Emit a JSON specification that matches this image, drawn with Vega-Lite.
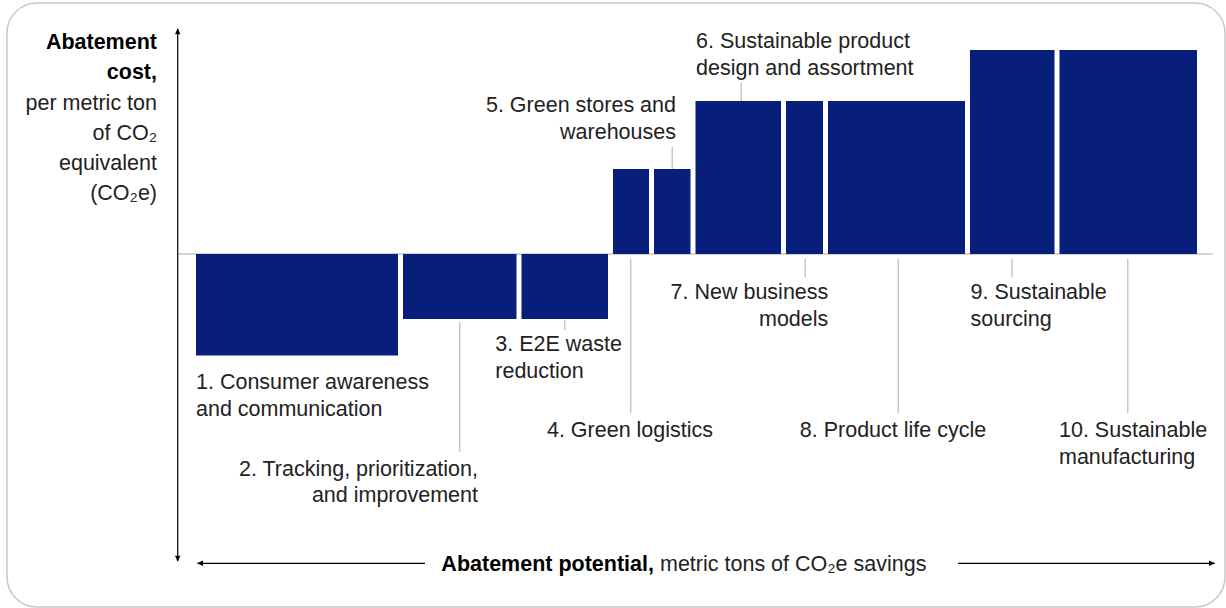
{
  "$schema": "https://vega.github.io/schema/vega-lite/v6.json",
  "width": 1218,
  "height": 604,
  "autosize": {"type": "none"},
  "padding": {"left": 7, "top": 3, "right": 1, "bottom": 1},
  "background": "white",
  "config": {
    "view": {"stroke": "#c8c8c8", "strokeWidth": 1.5, "cornerRadius": 30},
    "text": {"font": "Liberation Sans", "fontSize": 21.5, "color": "#222222"}
  },
  "datasets": {
    "bars": [
      {"lever": 1, "name": "Consumer awareness and communication", "start": 0, "end": 20.7, "cost": -10.15},
      {"lever": 2, "name": "Tracking, prioritization, and improvement", "start": 20.7, "end": 32.55, "cost": -6.5},
      {"lever": 3, "name": "E2E waste reduction", "start": 32.55, "end": 41.7, "cost": -6.5},
      {"lever": 4, "name": "Green logistics", "start": 41.7, "end": 45.8, "cost": 8.5},
      {"lever": 5, "name": "Green stores and warehouses", "start": 45.8, "end": 49.95, "cost": 8.5},
      {"lever": 6, "name": "Sustainable product design and assortment", "start": 49.95, "end": 59.0, "cost": 15.3},
      {"lever": 7, "name": "New business models", "start": 59.0, "end": 63.2, "cost": 15.3},
      {"lever": 8, "name": "Product life cycle", "start": 63.2, "end": 77.4, "cost": 15.3},
      {"lever": 9, "name": "Sustainable sourcing", "start": 77.4, "end": 86.35, "cost": 20.4},
      {"lever": 10, "name": "Sustainable manufacturing", "start": 86.35, "end": 100.6, "cost": 20.4}
    ],
    "leaders": [
      {"lever": 2, "x": 26.62, "top": -6.77, "bottom": -19.8},
      {"lever": 3, "x": 37.12, "top": -6.6, "bottom": -7.6},
      {"lever": 4, "x": 43.72, "top": -0.5, "bottom": -15.9},
      {"lever": 5, "x": 47.88, "top": 10.7, "bottom": 8.5},
      {"lever": 6, "x": 54.78, "top": 17.1, "bottom": 15.3},
      {"lever": 7, "x": 61.18, "top": -0.5, "bottom": -2.3},
      {"lever": 8, "x": 70.48, "top": -0.5, "bottom": -15.9},
      {"lever": 9, "x": 81.85, "top": -0.5, "bottom": -2.3},
      {"lever": 10, "x": 93.42, "top": -0.5, "bottom": -15.9}
    ],
    "zeroLine": [{"x": -1.55, "x2": 101.92, "y": 0, "y2": 0}],
    "axisLines": [
      {"part": "y axis", "x": -1.58, "x2": -1.58, "y": 22.5, "y2": -30.7},
      {"part": "x axis left", "x": 0.4, "x2": 23.15, "y": -30.93, "y2": -30.93},
      {"part": "x axis right", "x": 76.45, "x2": 102.1, "y": -30.93, "y2": -30.93}
    ],
    "arrowHeads": [
      {"dir": "up", "x": -1.58, "y": 22.57},
      {"dir": "down", "x": -1.58, "y": -30.77},
      {"dir": "left", "x": 0.35, "y": -30.93},
      {"dir": "right", "x": 102.15, "y": -30.93}
    ],
    "labelsLeft": [
      {"lever": 1, "x": 0.25, "y": -12.87, "text": "1. Consumer awareness"},
      {"lever": 1, "x": 0.25, "y": -15.6, "text": "and communication"},
      {"lever": 3, "x": 30.18, "y": -9.1, "text": "3. E2E waste"},
      {"lever": 3, "x": 30.18, "y": -11.77, "text": "reduction"},
      {"lever": 6, "x": 50.25, "y": 21.2, "text": "6. Sustainable product"},
      {"lever": 6, "x": 50.25, "y": 18.5, "text": "design and assortment"},
      {"lever": 9, "x": 77.7, "y": -3.87, "text": "9. Sustainable"},
      {"lever": 9, "x": 77.7, "y": -6.6, "text": "sourcing"},
      {"lever": 10, "x": 86.55, "y": -17.7, "text": "10. Sustainable"},
      {"lever": 10, "x": 86.55, "y": -20.4, "text": "manufacturing"}
    ],
    "labelsRight": [
      {"lever": 2, "x": 28.45, "y": -21.55, "text": "2. Tracking, prioritization,"},
      {"lever": 2, "x": 28.45, "y": -24.2, "text": "and improvement"},
      {"lever": 5, "x": 48.25, "y": 14.85, "text": "5. Green stores and"},
      {"lever": 5, "x": 48.25, "y": 12.15, "text": "warehouses"},
      {"lever": 7, "x": 63.48, "y": -3.87, "text": "7. New business"},
      {"lever": 7, "x": 63.48, "y": -6.6, "text": "models"}
    ],
    "labelsCenter": [
      {"lever": 4, "x": 43.65, "y": -17.7, "text": "4. Green logistics"},
      {"lever": 8, "x": 69.95, "y": -17.7, "text": "8. Product life cycle"}
    ],
    "yTitleBold": [
      {"x": -3.65, "y": 21.1, "text": "Abatement"},
      {"x": -3.65, "y": 18.1, "text": "cost,"}
    ],
    "yTitleRegular": [
      {"x": -3.65, "y": 15.0, "text": "per metric ton"},
      {"x": -3.65, "y": 12.0, "text": "of CO₂"},
      {"x": -3.65, "y": 9.0, "text": "equivalent"},
      {"x": -3.65, "y": 6.0, "text": "(CO₂e)"}
    ],
    "xTitleBold": [{"x": 46.05, "y": -31.1, "text": "Abatement potential,"}],
    "xTitleRegular": [{"x": 46.65, "y": -31.1, "text": "metric tons of CO₂e savings"}]
  },
  "layer": [
    {
      "data": {"name": "zeroLine"},
      "mark": {"type": "rule", "color": "#c4c4c4", "strokeWidth": 1.5},
      "encoding": {
        "x": {"field": "x", "type": "quantitative", "scale": {"domain": [-18.65, 103.15], "nice": false, "zero": false}, "axis": null},
        "x2": {"field": "x2"},
        "y": {"field": "y", "type": "quantitative", "scale": {"domain": [-35.3, 25.1], "nice": false, "zero": false}, "axis": null},
        "y2": {"field": "y2"}
      }
    },
    {
      "data": {"name": "bars"},
      "mark": {"type": "rect", "color": "#071f7a", "xOffset": 2.5, "x2Offset": -2.5},
      "encoding": {
        "x": {"field": "start", "type": "quantitative", "scale": {"domain": [-18.65, 103.15], "nice": false, "zero": false}, "axis": null},
        "x2": {"field": "end"},
        "y": {"field": "cost", "type": "quantitative", "scale": {"domain": [-35.3, 25.1], "nice": false, "zero": false}, "axis": null},
        "y2": {"datum": 0}
      }
    },
    {
      "data": {"name": "leaders"},
      "mark": {"type": "rule", "color": "#c8c8c8", "strokeWidth": 1.5},
      "encoding": {
        "x": {"field": "x", "type": "quantitative", "scale": {"domain": [-18.65, 103.15], "nice": false, "zero": false}, "axis": null},
        "y": {"field": "top", "type": "quantitative", "scale": {"domain": [-35.3, 25.1], "nice": false, "zero": false}, "axis": null},
        "y2": {"field": "bottom"}
      }
    },
    {
      "data": {"name": "axisLines"},
      "mark": {"type": "rule", "color": "#000000", "strokeWidth": 1.2},
      "encoding": {
        "x": {"field": "x", "type": "quantitative", "scale": {"domain": [-18.65, 103.15], "nice": false, "zero": false}, "axis": null},
        "x2": {"field": "x2"},
        "y": {"field": "y", "type": "quantitative", "scale": {"domain": [-35.3, 25.1], "nice": false, "zero": false}, "axis": null},
        "y2": {"field": "y2"}
      }
    },
    {
      "data": {"name": "arrowHeads"},
      "mark": {"type": "point", "filled": true, "color": "#000000", "size": 36, "opacity": 1},
      "encoding": {
        "x": {"field": "x", "type": "quantitative", "scale": {"domain": [-18.65, 103.15], "nice": false, "zero": false}, "axis": null},
        "y": {"field": "y", "type": "quantitative", "scale": {"domain": [-35.3, 25.1], "nice": false, "zero": false}, "axis": null},
        "shape": {
          "field": "dir", "type": "nominal", "legend": null,
          "scale": {"domain": ["up", "down", "left", "right"], "range": ["M0,0L-0.9,2L0.9,2Z", "M0,0L-0.9,-2L0.9,-2Z", "M0,0L2,-0.9L2,0.9Z", "M0,0L-2,-0.9L-2,0.9Z"]}
        }
      }
    },
    {
      "data": {"name": "labelsLeft"},
      "mark": {"type": "text", "align": "left", "baseline": "middle"},
      "encoding": {
        "x": {"field": "x", "type": "quantitative", "scale": {"domain": [-18.65, 103.15], "nice": false, "zero": false}, "axis": null},
        "y": {"field": "y", "type": "quantitative", "scale": {"domain": [-35.3, 25.1], "nice": false, "zero": false}, "axis": null},
        "text": {"field": "text"}
      }
    },
    {
      "data": {"name": "labelsRight"},
      "mark": {"type": "text", "align": "right", "baseline": "middle"},
      "encoding": {
        "x": {"field": "x", "type": "quantitative", "scale": {"domain": [-18.65, 103.15], "nice": false, "zero": false}, "axis": null},
        "y": {"field": "y", "type": "quantitative", "scale": {"domain": [-35.3, 25.1], "nice": false, "zero": false}, "axis": null},
        "text": {"field": "text"}
      }
    },
    {
      "data": {"name": "labelsCenter"},
      "mark": {"type": "text", "align": "center", "baseline": "middle"},
      "encoding": {
        "x": {"field": "x", "type": "quantitative", "scale": {"domain": [-18.65, 103.15], "nice": false, "zero": false}, "axis": null},
        "y": {"field": "y", "type": "quantitative", "scale": {"domain": [-35.3, 25.1], "nice": false, "zero": false}, "axis": null},
        "text": {"field": "text"}
      }
    },
    {
      "data": {"name": "yTitleBold"},
      "mark": {"type": "text", "align": "right", "baseline": "middle", "fontWeight": "bold", "color": "#000000"},
      "encoding": {
        "x": {"field": "x", "type": "quantitative", "scale": {"domain": [-18.65, 103.15], "nice": false, "zero": false}, "axis": null},
        "y": {"field": "y", "type": "quantitative", "scale": {"domain": [-35.3, 25.1], "nice": false, "zero": false}, "axis": null},
        "text": {"field": "text"}
      }
    },
    {
      "data": {"name": "yTitleRegular"},
      "mark": {"type": "text", "align": "right", "baseline": "middle"},
      "encoding": {
        "x": {"field": "x", "type": "quantitative", "scale": {"domain": [-18.65, 103.15], "nice": false, "zero": false}, "axis": null},
        "y": {"field": "y", "type": "quantitative", "scale": {"domain": [-35.3, 25.1], "nice": false, "zero": false}, "axis": null},
        "text": {"field": "text"}
      }
    },
    {
      "data": {"name": "xTitleBold"},
      "mark": {"type": "text", "align": "right", "baseline": "middle", "fontWeight": "bold", "color": "#000000"},
      "encoding": {
        "x": {"field": "x", "type": "quantitative", "scale": {"domain": [-18.65, 103.15], "nice": false, "zero": false}, "axis": null},
        "y": {"field": "y", "type": "quantitative", "scale": {"domain": [-35.3, 25.1], "nice": false, "zero": false}, "axis": null},
        "text": {"field": "text"}
      }
    },
    {
      "data": {"name": "xTitleRegular"},
      "mark": {"type": "text", "align": "left", "baseline": "middle"},
      "encoding": {
        "x": {"field": "x", "type": "quantitative", "scale": {"domain": [-18.65, 103.15], "nice": false, "zero": false}, "axis": null},
        "y": {"field": "y", "type": "quantitative", "scale": {"domain": [-35.3, 25.1], "nice": false, "zero": false}, "axis": null},
        "text": {"field": "text"}
      }
    }
  ]
}
